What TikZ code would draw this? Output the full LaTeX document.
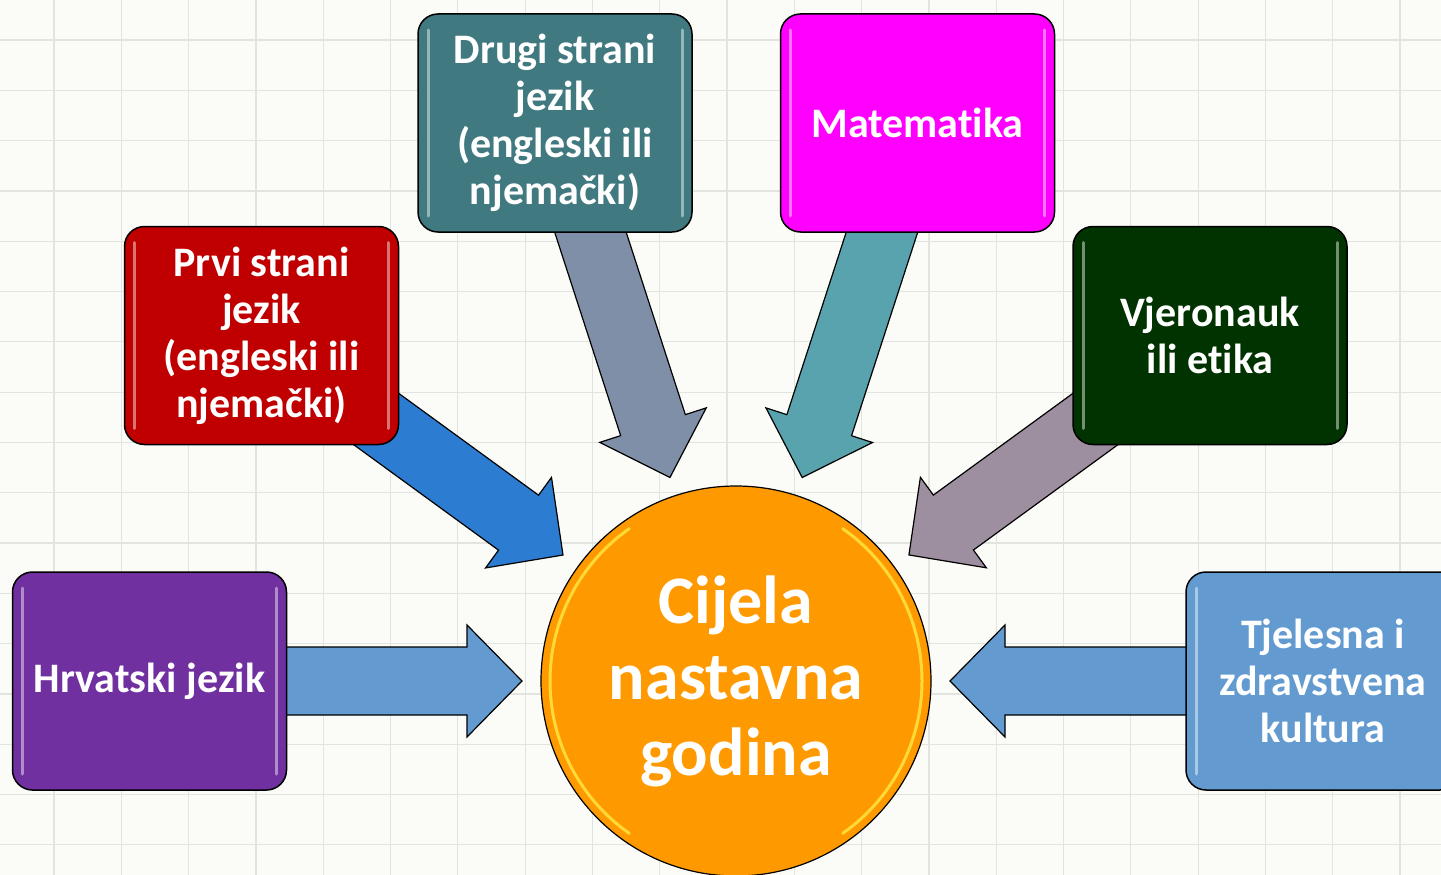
\documentclass[tikz,border=0pt]{standalone}
\usepackage{fontspec}
\setmainfont{Carlito}[Ligatures=NoCommon]
\usetikzlibrary{calc}
\definecolor{PaperBg}{RGB}{251,252,247}
\definecolor{GridGray}{RGB}{226,228,224}
\definecolor{HrvPurple}{RGB}{112,48,160}
\definecolor{PrviRed}{RGB}{192,0,0}
\definecolor{DrugiTeal}{RGB}{65,121,128}
\definecolor{MatMagenta}{RGB}{255,0,255}
\definecolor{VjerGreen}{RGB}{0,51,0}
\definecolor{TzkBlue}{RGB}{99,155,209}
\definecolor{NastOrange}{RGB}{255,153,0}
\definecolor{ArrBlue}{RGB}{44,125,210}
\definecolor{ArrSlate}{RGB}{128,143,168}
\definecolor{ArrTeal}{RGB}{88,163,173}
\definecolor{ArrMauve}{RGB}{158,143,160}
\pgfdeclarelayer{grid}
\pgfdeclarelayer{arrows}
\pgfsetlayers{grid,arrows,main}
\tikzset{
  gloss/.style={path picture={
    \draw[white,opacity=.45,line width=3pt,line cap=round]
      ([shift={(10pt,-16pt)}]path picture bounding box.north west) -- ([shift={(10pt,16pt)}]path picture bounding box.south west)
      ([shift={(-10pt,-16pt)}]path picture bounding box.north east) -- ([shift={(-10pt,16pt)}]path picture bounding box.south east);}},
  subject/.style={draw=black,line width=1.5pt,rounded corners=20pt,text=white,
    minimum width=274pt,minimum height=218pt,inner sep=0pt,align=center,
    font=\fontsize{42}{47}\selectfont\bfseries,gloss},
  hub/.style={circle,draw=black,line width=1.2pt,fill=NastOrange,text=white,
    minimum size=390pt,inner sep=0pt,align=center,
    font=\fontsize{68}{76}\selectfont\bfseries},
  rim/.style={draw=yellow!70!white,line width=3pt,opacity=.7,line cap=round},
  blockarrow/.style={draw=black,line width=1.2pt,line join=miter},
  gridline/.style={draw=GridGray,line width=1.2pt},
}
% block arrow from a subject box towards the hub
\newcommand{\bigarrow}[2]{%
  \coordinate (tip-#1) at ($(nast.center)!214pt!(#1.center)$);
  \coordinate (head-#1) at ($(tip-#1)!55pt!(#1.center)$);
  \draw[blockarrow,fill=#2] ($(#1.center)!34pt!90:(tip-#1)$)
    -- ($(head-#1)!34pt!-90:(#1.center)$) -- ($(head-#1)!56pt!-90:(#1.center)$)
    -- (tip-#1)
    -- ($(head-#1)!56pt!90:(#1.center)$) -- ($(head-#1)!34pt!90:(#1.center)$)
    -- ($(#1.center)!34pt!-90:(tip-#1)$) -- cycle;
}

\begin{document}
\begin{tikzpicture}[x=1pt,y=-1pt]
\useasboundingbox (0,0) rectangle (1441,875);
\begin{pgfonlayer}{grid}
\fill[PaperBg] (0,0) rectangle (1441,875);
\foreach \i in {0,...,21} \draw[gridline] ({-13.3+67.3*\i},0) -- ({-13.3+67.3*\i},875);
\foreach \j in {0,...,17} \draw[gridline] (0,{-10.3+50.3*\j}) -- (1441,{-10.3+50.3*\j});
\end{pgfonlayer}

% hub
\node[hub] (nast) at (736,681) {Cijela\\nastavna\\godina};
\draw[rim] ([shift={(125:186pt)}]nast.center) arc[start angle=125,end angle=235,radius=186pt];
\draw[rim] ([shift={(-55:186pt)}]nast.center) arc[start angle=-55,end angle=55,radius=186pt];

% subjects
\node[subject,fill=HrvPurple] (hrv) at (149.5,681) {Hrvatski jezik};
\node[subject,fill=PrviRed] (prvi) at (261.5,335.5) {Prvi strani\\jezik\\(engleski ili\\njemački)};
\node[subject,fill=DrugiTeal] (drugi) at (555,123) {Drugi strani\\jezik\\(engleski ili\\njemački)};
\node[subject,fill=MatMagenta] (mat) at (917.5,123) {Matematika};
\node[subject,fill=VjerGreen] (vjer) at (1210,335.5) {Vjeronauk\\ili etika};
\node[subject,fill=TzkBlue] (tzk) at (1323,681) {Tjelesna i\\zdravstvena\\kultura};

\begin{pgfonlayer}{arrows}
\bigarrow{hrv}{TzkBlue}
\bigarrow{prvi}{ArrBlue}
\bigarrow{drugi}{ArrSlate}
\bigarrow{mat}{ArrTeal}
\bigarrow{vjer}{ArrMauve}
\bigarrow{tzk}{TzkBlue}
\end{pgfonlayer}
\end{tikzpicture}
\end{document}
